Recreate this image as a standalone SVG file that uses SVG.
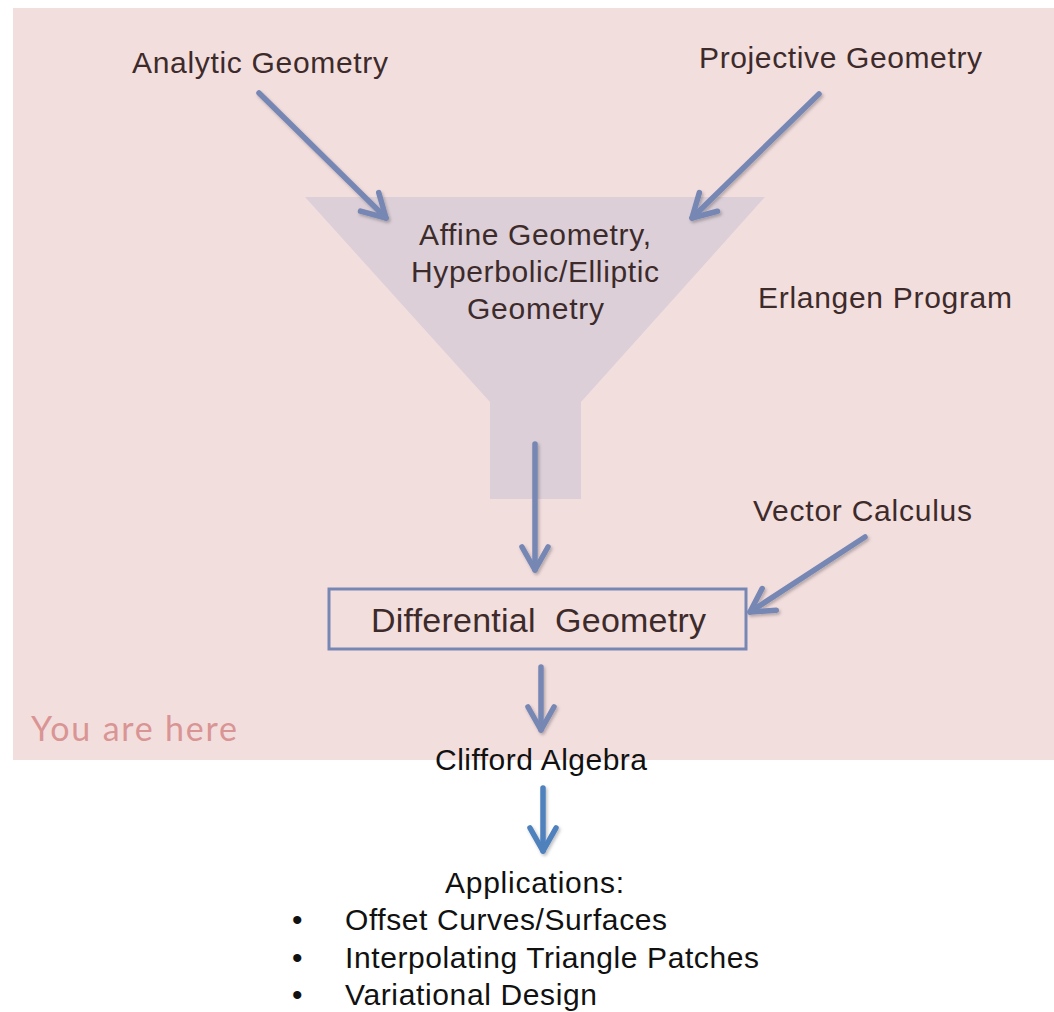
<svg xmlns="http://www.w3.org/2000/svg" width="1054" height="1012" viewBox="0 0 1054 1012">
<style>
.t{font-family:"Liberation Sans",Arial,sans-serif;fill:#3d2b2b;font-size:30px}
.k{font-family:"Liberation Sans",Arial,sans-serif;fill:#111;font-size:30px}
.c{stroke:#7787b4;stroke-width:5.5;fill:none;stroke-linecap:round;stroke-linejoin:round}
</style>
<defs>
<marker id="ah" markerUnits="userSpaceOnUse" viewBox="-30 -16 34 32" markerWidth="34" markerHeight="32" refX="0" refY="0" orient="auto" overflow="visible">
<path d="M-23,-13 L0,0 L-23,13" fill="none" stroke="#7787b4" stroke-width="5.5" stroke-linecap="round" stroke-linejoin="round"/>
</marker>
<marker id="ahb" markerUnits="userSpaceOnUse" viewBox="-30 -16 34 32" markerWidth="34" markerHeight="32" refX="0" refY="0" orient="auto" overflow="visible">
<path d="M-23,-13 L0,0 L-23,13" fill="none" stroke="#4f81bd" stroke-width="5.5" stroke-linecap="round" stroke-linejoin="round"/>
</marker>
<filter id="sh" x="-20%" y="-20%" width="140%" height="140%">
<feDropShadow dx="1.5" dy="2" stdDeviation="1.5" flood-color="#000" flood-opacity="0.25"/>
</filter>
</defs>
<rect x="0" y="0" width="1054" height="1012" fill="#fff"/>
<rect id="region" x="13" y="8" width="1041" height="752" fill="#f3dede"/>
<g id="funnel">
<polygon points="305,197 765,197 581,402 581,499 490,499 490,402" fill="#dccfd8"/>
<text class="t" x="419" y="245" textLength="232">Affine Geometry,</text>
<text class="t" x="411" y="282" textLength="248">Hyperbolic/Elliptic</text>
<text class="t" x="467" y="319" textLength="137">Geometry</text>
</g>
<g id="analytic"><text class="t" x="132" y="73" textLength="256">Analytic Geometry</text></g>
<g id="projective"><text class="t" x="699" y="68" textLength="283">Projective Geometry</text></g>
<g id="erlangen"><text class="t" x="758" y="308" textLength="254">Erlangen Program</text></g>
<g id="vector"><text class="t" x="753" y="521" textLength="219">Vector Calculus</text></g>
<g id="differential">
<rect x="329" y="589" width="417" height="60" fill="none" stroke="#7787b4" stroke-width="3"/>
<text class="t" style="font-size:34px" x="371" y="632" textLength="335" xml:space="preserve">Differential  Geometry</text>
</g>
<g id="youarehere"><text font-family="Lato,'Open Sans',sans-serif" font-size="34" fill="#d99594" x="31" y="741" textLength="206">You are here</text></g>
<g id="clifford"><text class="k" x="435" y="770" textLength="212">Clifford Algebra</text></g>
<g id="applications">
<text class="k" x="445" y="893" textLength="179">Applications:</text>
<text class="k" x="292" y="930">•</text>
<text class="k" x="345" y="930" textLength="322">Offset Curves/Surfaces</text>
<text class="k" x="292" y="968">•</text>
<text class="k" x="345" y="968" textLength="414">Interpolating Triangle Patches</text>
<text class="k" x="292" y="1005">•</text>
<text class="k" x="345" y="1005" textLength="252">Variational Design</text>
</g>
<g id="connectors" filter="url(#sh)">
<line class="c" x1="259" y1="93" x2="386" y2="218" marker-end="url(#ah)"/>
<line class="c" x1="819" y1="94" x2="692" y2="218" marker-end="url(#ah)"/>
<line class="c" x1="535" y1="444" x2="535" y2="570" marker-end="url(#ah)"/>
<line class="c" x1="865" y1="537" x2="750" y2="612" marker-end="url(#ah)"/>
<line class="c" x1="541" y1="667" x2="541" y2="730" marker-end="url(#ah)"/>
<line x1="543" y1="788" x2="543" y2="851" stroke="#4f81bd" stroke-width="5.5" stroke-linecap="round" marker-end="url(#ahb)"/>
</g>
</svg>
